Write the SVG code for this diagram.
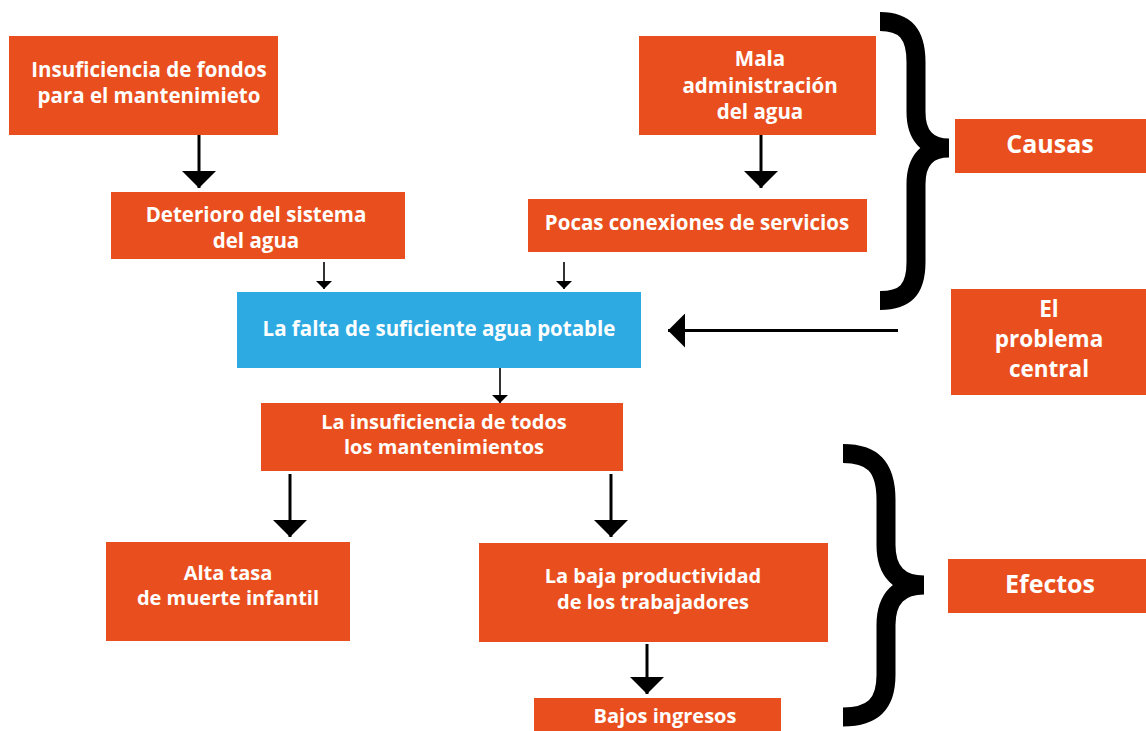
<svg xmlns="http://www.w3.org/2000/svg" width="1146" height="731" viewBox="0 0 1146 731">
<style>
.box{fill:#E94F1E}
.blue{fill:#2EAAE2}
.t{font-family:"Open Sans",Lato,"Liberation Sans",sans-serif;font-weight:700;fill:#fff;text-anchor:middle;font-size:20.5px}
.tl{font-size:20px}
.big{font-size:25px}
.bl{font-size:22.5px}
.c{stroke:#000;fill:none}
.cb{stroke-width:3;marker-end:url(#hb)}
.cs{stroke-width:1.6;marker-end:url(#hs)}
.brace{stroke:#000;fill:none;stroke-width:19}
</style>
<defs>
<marker id="hb" markerUnits="userSpaceOnUse" viewBox="0 0 17 34" refX="17" refY="17" markerWidth="17" markerHeight="34" orient="auto"><path d="M0,0 L17,17 L0,34 z" fill="#000"/></marker>
<marker id="hs" markerUnits="userSpaceOnUse" viewBox="0 0 8 16" refX="8" refY="8" markerWidth="8" markerHeight="16" orient="auto"><path d="M0,0 L8,8 L0,16 z" fill="#000"/></marker>
</defs>
<rect width="1146" height="731" fill="#fff"/>
<g id="connectors">
<line class="c cb" x1="199" y1="135" x2="199" y2="188"/>
<line class="c cb" x1="761" y1="135" x2="761" y2="188"/>
<line class="c cs" x1="324" y1="262" x2="324" y2="289"/>
<line class="c cs" x1="564" y1="262" x2="564" y2="289"/>
<line class="c cb" x1="898" y1="330.5" x2="668" y2="330.5"/>
<line class="c cs" x1="500" y1="368" x2="500" y2="403"/>
<line class="c cb" x1="290" y1="474" x2="290" y2="537"/>
<line class="c cb" x1="611" y1="474" x2="611" y2="537"/>
<line class="c cb" x1="647" y1="644" x2="647" y2="694"/>
</g>
<g id="brace-causas"><path class="brace" d="M880,21.5 C905,21.5 916,34 916,62 L916,112 C916,136 928,148 949,148 C928,148 916,160 916,184 L916,262 C916,290 905,300.5 880,300.5"/></g>
<g id="brace-efectos"><path class="brace" d="M843,453.5 C872,453.5 886,466 886,500 L886,545 C886,572 900,585 924,585 C900,585 886,598 886,625 L886,675 C886,705 872,717 843,717"/></g>
<g id="n-fondos"><rect class="box" x="9" y="36" width="269" height="99"/><text class="t" x="149" y="77">Insuficiencia de fondos</text><text class="t" x="149" y="103">para el mantenimieto</text></g>
<g id="n-deterioro"><rect class="box" x="111" y="192" width="294" height="67"/><text class="t" x="256" y="222">Deterioro del sistema</text><text class="t" x="256" y="248">del agua</text></g>
<g id="n-mala"><rect class="box" x="639" y="36" width="237" height="99"/><text class="t" x="760" y="66">Mala</text><text class="t" x="760" y="93">administración</text><text class="t" x="760" y="119">del agua</text></g>
<g id="n-pocas"><rect class="box" x="528" y="199" width="339" height="53"/><text class="t" x="697" y="230">Pocas conexiones de servicios</text></g>
<g id="n-falta"><rect class="blue" x="237" y="292" width="404" height="76"/><text class="t" x="439" y="336">La falta de suficiente agua potable</text></g>
<g id="n-insuf"><rect class="box" x="261" y="403" width="362" height="68"/><text class="t tl" x="444" y="429">La insuficiencia de todos</text><text class="t tl" x="444" y="454">los mantenimientos</text></g>
<g id="n-alta"><rect class="box" x="106" y="542" width="244" height="99"/><text class="t tl" x="228" y="580">Alta tasa</text><text class="t tl" x="228" y="605">de muerte infantil</text></g>
<g id="n-baja"><rect class="box" x="479" y="543" width="349" height="99"/><text class="t tl" x="653" y="583">La baja productividad</text><text class="t tl" x="653" y="609">de los trabajadores</text></g>
<g id="n-bajos"><rect class="box" x="534" y="698" width="247" height="40"/><text class="t tl" x="665" y="723">Bajos ingresos</text></g>
<g id="n-causas"><rect class="box" x="955" y="119" width="191" height="54"/><text class="t big" x="1050" y="153">Causas</text></g>
<g id="n-central"><rect class="box" x="951" y="289" width="195" height="106"/><text class="t bl" x="1049" y="317">El</text><text class="t bl" x="1049" y="347">problema</text><text class="t bl" x="1049" y="377">central</text></g>
<g id="n-efectos"><rect class="box" x="948" y="559" width="198" height="54"/><text class="t big" x="1050" y="593">Efectos</text></g>
</svg>
